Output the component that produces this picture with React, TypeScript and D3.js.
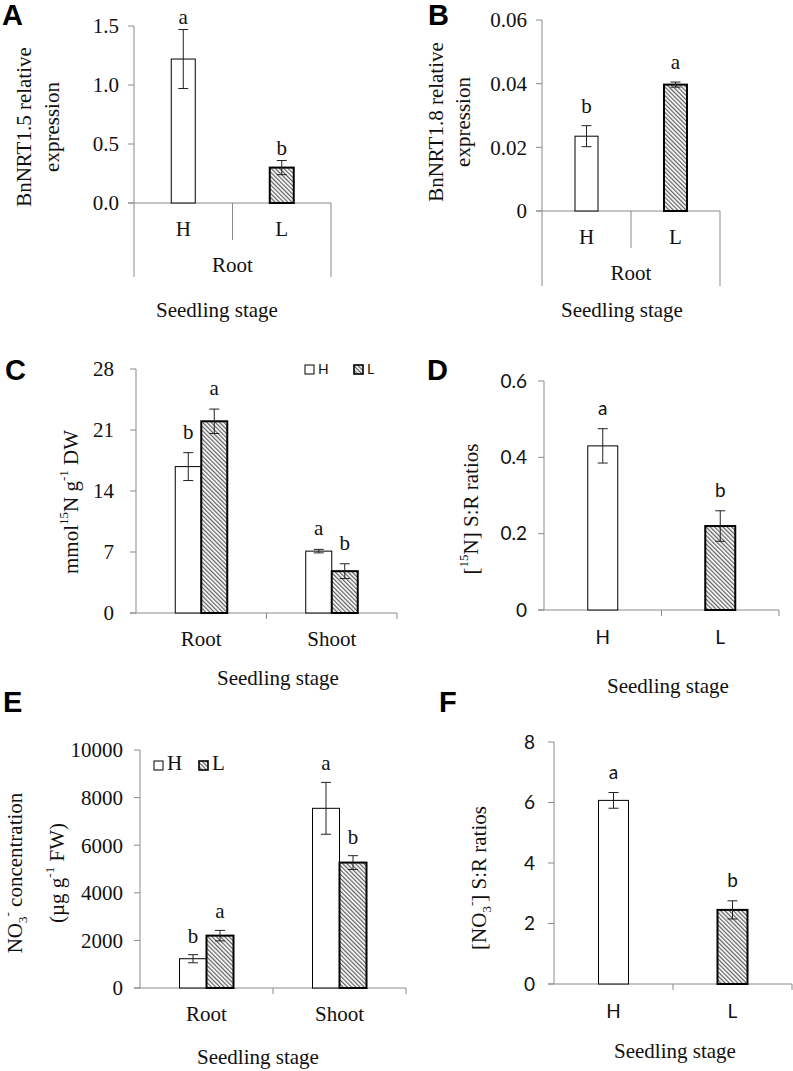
import { scaleBand, scaleLinear } from 'd3'

const treatments = ['H', 'L']
const tissues = ['Root', 'Shoot']

// A: BnNRT1.5 relative expression, root
const nrt15Means = [1.22, 0.3]
const nrt15Errors = [0.25, 0.06]
const nrt15Letters = ['a', 'b']
const nrt15Ticks = [0, 0.5, 1.0, 1.5]

// B: BnNRT1.8 relative expression, root
const nrt18Means = [0.0235, 0.0397]
const nrt18Errors = [0.0033, 0.0008]
const nrt18Letters = ['b', 'a']
const nrt18Ticks = [0, 0.02, 0.04, 0.06]

// C: 15N uptake
const n15HighMeans = [16.8, 7.1]
const n15HighErrors = [1.6, 0.2]
const n15HighLetters = ['b', 'a']
const n15LowMeans = [22.0, 4.8]
const n15LowErrors = [1.4, 0.85]
const n15LowLetters = ['a', 'b']
const n15Ticks = [0, 7, 14, 21, 28]

// D: [15N] S:R ratios
const n15RatioMeans = [0.43, 0.22]
const n15RatioErrors = [0.045, 0.04]
const n15RatioLetters = ['a', 'b']
const n15RatioTicks = [0, 0.2, 0.4, 0.6]

// E: NO3- concentration
const no3HighMeans = [1230, 7550]
const no3HighErrors = [170, 1090]
const no3HighLetters = ['b', 'a']
const no3LowMeans = [2200, 5270]
const no3LowErrors = [220, 290]
const no3LowLetters = ['a', 'b']
const no3Ticks = [0, 2000, 4000, 6000, 8000, 10000]

// F: [NO3-] S:R ratios
const no3RatioMeans = [6.07, 2.45]
const no3RatioErrors = [0.26, 0.3]
const no3RatioLetters = ['a', 'b']
const no3RatioTicks = [0, 2, 4, 6, 8]

const serif = '"Liberation Serif", "Times New Roman", serif'
const sans = 'Lato, "Liberation Sans", sans-serif'
const letterFont = '"Liberation Sans", Arial, sans-serif'
const axisColor = '#8a8a8a'
const textSize = 21

type Series = {
  values: number[]
  errors: number[]
  letters: string[]
  hatched: boolean[]
}

type PanelProps = {
  axisX: number
  axisEnd: number
  yZero: number
  yTop: number
  ticks: number[]
  tickFormat: (v: number) => string
  tickFont: string
  tickSize: number
  tickGap: number
  categories: string[]
  series: Series[]
  barWidth: number
  letterGap: number
  letterFont: string
  catFont: string
  catY: number
  nested?: { groupLabel: string; groupY: number; dividerBottom: number; frameBottom: number }
}

function BarPanel(props: PanelProps) {
  const {
    axisX, axisEnd, yZero, yTop, ticks, tickFormat, tickFont, tickSize, tickGap,
    categories, series, barWidth, letterGap, catY, nested,
  } = props

  const yScale = scaleLinear()
    .domain([0, ticks[ticks.length - 1]])
    .range([yZero, yTop])

  const xScale = scaleBand()
    .domain(categories)
    .range([axisX, axisEnd])
    .padding(0)

  const inner = scaleBand()
    .domain(series.map((_, i) => String(i)))
    .range([0, barWidth * series.length])

  const groupWidth = barWidth * series.length

  return (
    <g>
      {/* value axis */}
      <line x1={axisX} y1={yTop} x2={axisX} y2={nested ? nested.frameBottom : yZero} stroke={axisColor} strokeWidth={1} />
      {ticks.map((tick) => (
        <g key={`tick-${tick}`}>
          <line x1={axisX - 6} x2={axisX} y1={yScale(tick)} y2={yScale(tick)} stroke={axisColor} strokeWidth={1} />
          <text
            x={axisX - tickGap}
            y={yScale(tick)}
            dy="0.35em"
            textAnchor="end"
            fontFamily={tickFont}
            fontSize={tickSize}
            fill="#111"
          >
            {tickFormat(tick)}
          </text>
        </g>
      ))}

      {/* category axis */}
      <line x1={axisX - 6} x2={axisEnd} y1={yZero} y2={yZero} stroke={axisColor} strokeWidth={1} />
      {nested ? (
        <g>
          {categories.slice(1).map((c) => (
            <line key={`div-${c}`} x1={xScale(c) ?? 0} x2={xScale(c) ?? 0} y1={yZero} y2={nested.dividerBottom} stroke={axisColor} />
          ))}
          <line x1={axisEnd} x2={axisEnd} y1={yZero} y2={nested.frameBottom} stroke={axisColor} />
          <text
            x={(axisX + axisEnd) / 2}
            y={nested.groupY}
            textAnchor="middle"
            fontFamily={serif}
            fontSize={textSize}
            fill="#111"
          >
            {nested.groupLabel}
          </text>
        </g>
      ) : (
        categories.map((c) => {
          const x = (xScale(c) ?? 0) + xScale.bandwidth()
          return <line key={`ct-${c}`} x1={x} x2={x} y1={yZero} y2={yZero + 6} stroke={axisColor} />
        })
      )}

      {categories.map((c) => (
        <text
          key={`cat-${c}`}
          x={(xScale(c) ?? 0) + xScale.bandwidth() / 2}
          y={catY}
          textAnchor="middle"
          fontFamily={props.catFont}
          fontSize={props.catFont === sans ? 19 : textSize}
          fill="#111"
        >
          {c}
        </text>
      ))}

      {/* bars */}
      {series.map((s, si) =>
        categories.map((c, ci) => {
          const x = (xScale(c) ?? 0) + xScale.bandwidth() / 2 - groupWidth / 2 + (inner(String(si)) ?? 0)
          const y = yScale(s.values[ci])
          const cx = x + barWidth / 2
          const yHi = yScale(s.values[ci] + s.errors[ci])
          const yLo = yScale(s.values[ci] - s.errors[ci])
          const hatched = s.hatched[ci]
          return (
            <g key={`bar-${si}-${c}`}>
              <rect
                x={x}
                y={y}
                width={barWidth}
                height={yZero - y}
                fill={hatched ? 'url(#hatch)' : '#fff'}
                stroke="#000"
                strokeWidth={hatched ? 2 : 1}
              />
              <line x1={cx} x2={cx} y1={yHi} y2={yLo} stroke="#222" strokeWidth={1} />
              <line x1={cx - 5} x2={cx + 5} y1={yHi} y2={yHi} stroke="#222" strokeWidth={1} />
              <line x1={cx - 5} x2={cx + 5} y1={yLo} y2={yLo} stroke="#222" strokeWidth={1} />
              <text
                x={cx}
                y={yHi - letterGap}
                textAnchor="middle"
                fontFamily={props.letterFont}
                fontSize={props.letterFont === sans ? 19 : textSize}
                fill="#111"
              >
                {s.letters[ci]}
              </text>
            </g>
          )
        }),
      )}
    </g>
  )
}

function PanelLetter({ x, y, label }: { x: number; y: number; label: string }) {
  return (
    <text x={x} y={y} fontFamily={letterFont} fontWeight="bold" fontSize={29} fill="#000">
      {label}
    </text>
  )
}

function SeedlingLabel({ x, y }: { x: number; y: number }) {
  return (
    <text x={x} y={y} textAnchor="middle" fontFamily={serif} fontSize={textSize} fill="#111">
      Seedling stage
    </text>
  )
}

function LegendItem({ x, y, label, hatched, font, size }: { x: number; y: number; label: string; hatched: boolean; font: string; size: number }) {
  return (
    <g>
      <rect
        x={x}
        y={y - 9}
        width={9}
        height={9}
        fill={hatched ? 'url(#hatch)' : '#fff'}
        stroke="#000"
        strokeWidth={hatched ? 1.6 : 1}
      />
      <text x={x + 13} y={y} fontFamily={font} fontSize={size} fill="#111">
        {label}
      </text>
    </g>
  )
}

function YTitle({ x, y, children }: { x: number; y: number; children: React.ReactNode }) {
  return (
    <text transform={`translate(${x},${y}) rotate(-90)`} textAnchor="middle" fontFamily={serif} fontSize={textSize} fill="#111">
      {children}
    </text>
  )
}

const fmt1 = (v: number) => v.toFixed(1)
const fmtPlain = (v: number) => String(v)
const fmt2 = (v: number) => (v === 0 ? '0' : v.toFixed(2))

export default function App() {
  return (
    <svg
      width={793}
      height={1071}
      viewBox="0 0 793 1071"
      style={{ position: 'absolute', left: 0, top: 0, background: '#fff' }}
    >
      <defs>
        <pattern id="hatch" patternUnits="userSpaceOnUse" width={3} height={3} patternTransform="rotate(-45)">
          <rect width={3} height={3} fill="#fff" />
          <line x1={0.7} y1={0} x2={0.7} y2={3} stroke="#3a3a3a" strokeWidth={1} />
        </pattern>
      </defs>

      {/* Panel A */}
      <PanelLetter x={2} y={25} label="A" />
      <YTitle x={31} y={127}>BnNRT1.5 relative</YTitle>
      <YTitle x={59} y={127}>expression</YTitle>
      <BarPanel
        axisX={134}
        axisEnd={331}
        yZero={203}
        yTop={26}
        ticks={nrt15Ticks}
        tickFormat={fmt1}
        tickFont={serif}
        tickSize={textSize}
        tickGap={15}
        categories={treatments}
        series={[{ values: nrt15Means, errors: nrt15Errors, letters: nrt15Letters, hatched: [false, true] }]}
        barWidth={24}
        letterGap={6}
        letterFont={serif}
        catFont={serif}
        catY={236}
        nested={{ groupLabel: 'Root', groupY: 272, dividerBottom: 240, frameBottom: 277 }}
      />
      <SeedlingLabel x={217} y={317} />

      {/* Panel B */}
      <PanelLetter x={428} y={25} label="B" />
      <YTitle x={443} y={122}>BnNRT1.8 relative</YTitle>
      <YTitle x={470} y={122}>expression</YTitle>
      <BarPanel
        axisX={542}
        axisEnd={720}
        yZero={211}
        yTop={20}
        ticks={nrt18Ticks}
        tickFormat={fmt2}
        tickFont={serif}
        tickSize={textSize}
        tickGap={15}
        categories={treatments}
        series={[{ values: nrt18Means, errors: nrt18Errors, letters: nrt18Letters, hatched: [false, true] }]}
        barWidth={23}
        letterGap={13}
        letterFont={serif}
        catFont={serif}
        catY={244}
        nested={{ groupLabel: 'Root', groupY: 280, dividerBottom: 248, frameBottom: 286 }}
      />
      <SeedlingLabel x={622} y={317} />

      {/* Panel C */}
      <PanelLetter x={5} y={380} label="C" />
      <YTitle x={78} y={502}>
        mmol<tspan dy={-10} fontSize={13}>15</tspan>
        <tspan dy={10}>N g</tspan>
        <tspan dy={-10} fontSize={13}>-1</tspan>
        <tspan dy={10}> DW</tspan>
      </YTitle>
      <BarPanel
        axisX={136}
        axisEnd={397}
        yZero={613}
        yTop={369}
        ticks={n15Ticks}
        tickFormat={fmtPlain}
        tickFont={serif}
        tickSize={textSize}
        tickGap={22}
        categories={tissues}
        series={[
          { values: n15HighMeans, errors: n15HighErrors, letters: n15HighLetters, hatched: [false, false] },
          { values: n15LowMeans, errors: n15LowErrors, letters: n15LowLetters, hatched: [true, true] },
        ]}
        barWidth={26}
        letterGap={14}
        letterFont={serif}
        catFont={serif}
        catY={646}
      />
      <LegendItem x={305} y={374} label="H" hatched={false} font={sans} size={14} />
      <LegendItem x={354} y={374} label="L" hatched font={sans} size={14} />
      <SeedlingLabel x={278} y={685} />

      {/* Panel D */}
      <PanelLetter x={427} y={380} label="D" />
      <YTitle x={478} y={509}>
        [<tspan dy={-10} fontSize={13}>15</tspan>
        <tspan dy={10}>N] S:R ratios</tspan>
      </YTitle>
      <BarPanel
        axisX={544}
        axisEnd={779}
        yZero={610}
        yTop={381}
        ticks={n15RatioTicks}
        tickFormat={(v) => (v === 0 ? '0' : v.toFixed(1))}
        tickFont={sans}
        tickSize={19}
        tickGap={17}
        categories={treatments}
        series={[{ values: n15RatioMeans, errors: n15RatioErrors, letters: n15RatioLetters, hatched: [false, true] }]}
        barWidth={30}
        letterGap={14}
        letterFont={sans}
        catFont={sans}
        catY={644}
      />
      <SeedlingLabel x={668} y={693} />

      {/* Panel E */}
      <PanelLetter x={3} y={712} label="E" />
      <YTitle x={22} y={873}>
        NO<tspan dy={5} fontSize={13}>3</tspan>
        <tspan dy={-15} fontSize={13}>-</tspan>
        <tspan dy={10}> concentration</tspan>
      </YTitle>
      <YTitle x={64} y={873}>
        (µg g<tspan dy={-10} fontSize={13}>-1</tspan>
        <tspan dy={10}> FW)</tspan>
      </YTitle>
      <BarPanel
        axisX={140}
        axisEnd={406}
        yZero={988}
        yTop={750}
        ticks={no3Ticks}
        tickFormat={fmtPlain}
        tickFont={serif}
        tickSize={textSize}
        tickGap={17}
        categories={tissues}
        series={[
          { values: no3HighMeans, errors: no3HighErrors, letters: no3HighLetters, hatched: [false, false] },
          { values: no3LowMeans, errors: no3LowErrors, letters: no3LowLetters, hatched: [true, true] },
        ]}
        barWidth={27}
        letterGap={12}
        letterFont={serif}
        catFont={serif}
        catY={1021}
      />
      <LegendItem x={154} y={770} label="H" hatched={false} font={serif} size={textSize} />
      <LegendItem x={199} y={770} label="L" hatched font={serif} size={textSize} />
      <SeedlingLabel x={258} y={1064} />

      {/* Panel F */}
      <PanelLetter x={439} y={712} label="F" />
      <YTitle x={486} y={878}>
        [NO<tspan dy={5} fontSize={13}>3</tspan>
        <tspan dy={-15} fontSize={13}>-</tspan>
        <tspan dy={10}>] S:R ratios</tspan>
      </YTitle>
      <BarPanel
        axisX={554}
        axisEnd={792}
        yZero={984}
        yTop={742}
        ticks={no3RatioTicks}
        tickFormat={fmtPlain}
        tickFont={sans}
        tickSize={19}
        tickGap={19}
        categories={treatments}
        series={[{ values: no3RatioMeans, errors: no3RatioErrors, letters: no3RatioLetters, hatched: [false, true] }]}
        barWidth={30}
        letterGap={14}
        letterFont={sans}
        catFont={sans}
        catY={1018}
      />
      <SeedlingLabel x={675} y={1058} />
    </svg>
  )
}
